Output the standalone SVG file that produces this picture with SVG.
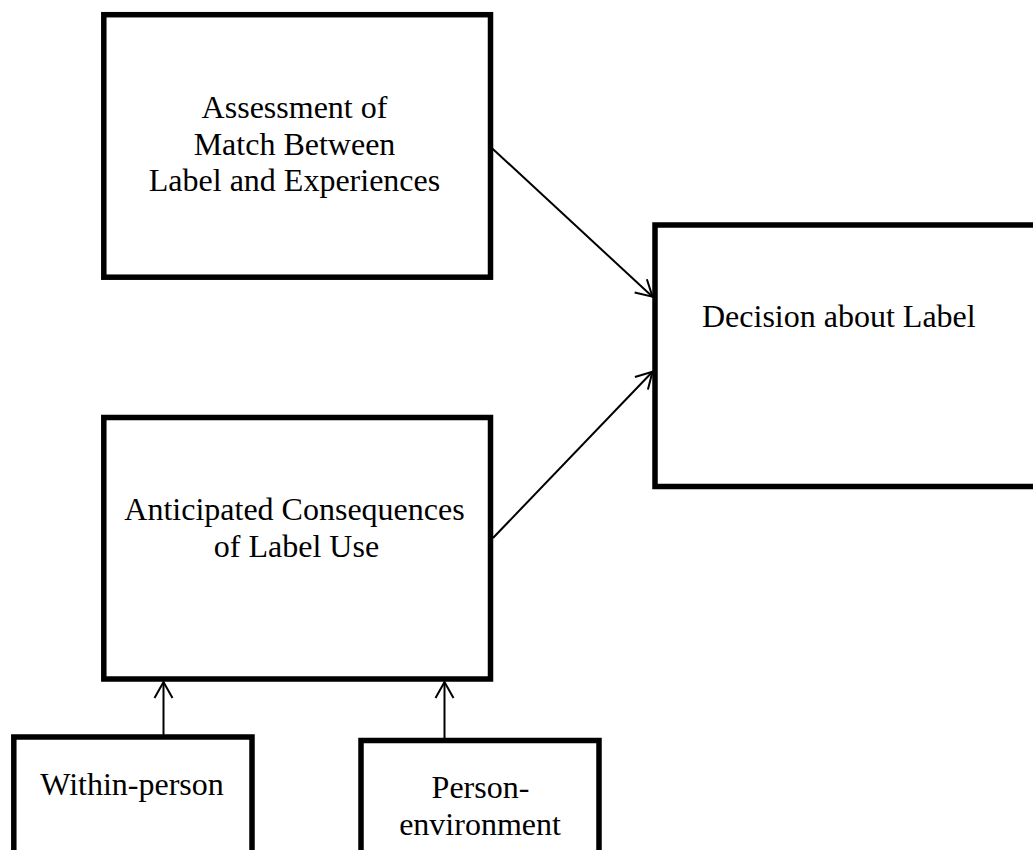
<svg xmlns="http://www.w3.org/2000/svg" width="1033" height="850" viewBox="0 0 1033 850">
<style>
.box{fill:#fff;stroke:#000;stroke-width:5.5}
.t{font-family:"Liberation Serif","Times New Roman",serif;font-size:32px;fill:#000}
.c{text-anchor:middle}
.edge{stroke:#000;stroke-width:2;fill:none}
</style>
<defs>
<marker id="arr" markerUnits="userSpaceOnUse" markerWidth="24" markerHeight="24" viewBox="-20 -12 24 24" refX="0" refY="0" orient="auto">
<path d="M -16 -9 L 0 0 L -16 9" fill="none" stroke="#000" stroke-width="2"/>
</marker>
</defs>
<rect width="1033" height="850" fill="#fff"/>
<g id="connectors">
<line class="edge" x1="485" y1="141.7" x2="652.5" y2="296.7" marker-end="url(#arr)"/>
<line class="edge" x1="493" y1="538" x2="652.5" y2="371.7" marker-end="url(#arr)"/>
<line class="edge" x1="163.5" y1="737" x2="163.5" y2="682" marker-end="url(#arr)"/>
<line class="edge" x1="444.5" y1="740" x2="444.5" y2="682" marker-end="url(#arr)"/>
</g>
<g id="assessment">
<rect class="box" x="103.8" y="14.7" width="386.7" height="262.5"/>
<text class="t c" x="294.5" y="118">Assessment of</text>
<text class="t c" x="294.5" y="155">Match Between</text>
<text class="t c" x="294.5" y="191">Label and Experiences</text>
</g>
<g id="anticipated">
<rect class="box" x="103.8" y="417.5" width="386.7" height="261.5"/>
<text class="t c" x="294.5" y="520">Anticipated Consequences</text>
<text class="t c" x="296.5" y="557">of Label Use</text>
</g>
<g id="decision">
<rect class="box" x="655" y="225" width="400" height="261.5"/>
<text class="t" x="702" y="327">Decision about Label</text>
</g>
<g id="within">
<rect class="box" x="13.8" y="737" width="238.2" height="140"/>
<text class="t c" x="132" y="795">Within-person</text>
</g>
<g id="personenv">
<rect class="box" x="361" y="740.5" width="238" height="140"/>
<text class="t c" x="480.5" y="798">Person-</text>
<text class="t c" x="480" y="835">environment</text>
</g>
</svg>
